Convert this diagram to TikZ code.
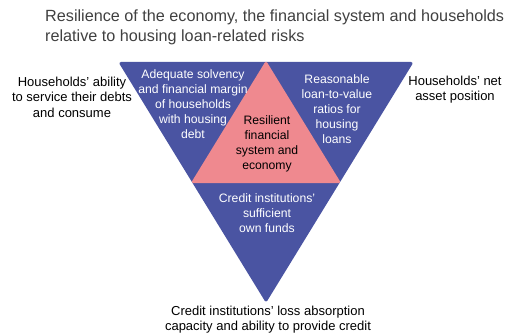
\documentclass[tikz,border=0pt]{standalone}
\usepackage{fontspec}
\setmainfont{Liberation Sans}
\usepackage{tikz}
\definecolor{riskblue}{RGB}{74,84,162}
\definecolor{riskpink}{RGB}{239,137,143}
\definecolor{titlegray}{RGB}{64,64,64}

\begin{document}
\begin{tikzpicture}[x=1pt,y=-1pt]
  \tikzstyle{every node}=[inner sep=0pt,align=center]
  \tikzstyle{piece}=[draw=white,line width=3pt,line join=round]
  \tikzstyle{label}=[font=\fontsize{13}{15.5}\selectfont,text=black]
  \tikzstyle{inner}=[font=\fontsize{12.2}{15}\selectfont,text=white]

  \useasboundingbox (0,0) rectangle (509,336);

  \coordinate (TL) at (121,63.5);
  \coordinate (TM) at (266,63.5);
  \coordinate (TR) at (411,63.5);
  \coordinate (ML) at (193.5,181.75);
  \coordinate (MR) at (338.5,181.75);
  \coordinate (BO) at (266,300);

  \fill[piece,riskblue] (TL) -- (TM) -- (ML) -- cycle;
  \fill[piece,riskblue] (TM) -- (TR) -- (MR) -- cycle;
  \fill[piece,riskblue] (ML) -- (MR) -- (BO) -- cycle;
  \fill[piece,riskpink] (TM) -- (MR) -- (ML) -- cycle;

  \node[anchor=west,text=titlegray,align=left,
        font=\fontsize{16.2}{20}\selectfont] (title) at (45,27)
    {Resilience of the economy, the financial system and households\\
     relative to housing loan-related risks};

  \node[label] (ability) at (72,97)
    {Households' ability\\to service their debts\\and consume};
  \node[label] (netpos) at (455,89.5)
    {Households' net\\asset position};
  \node[label] (loss) at (268,319.5)
    {Credit institutions' loss absorption\\capacity and ability to provide credit};

  \node[inner] (solvency) at (193,104)
    {Adequate solvency\\and financial margin\\of households\\with housing\\debt};
  \node[inner] (ltv) at (337,109.5)
    {Reasonable\\loan-to-value\\ratios for\\housing\\loans};
  \node[inner] (funds) at (267,213.5)
    {Credit institutions'\\sufficient\\own funds};
  \node[inner,text=black] (core) at (267,144)
    {Resilient\\financial\\system and\\economy};
\end{tikzpicture}
\end{document}
